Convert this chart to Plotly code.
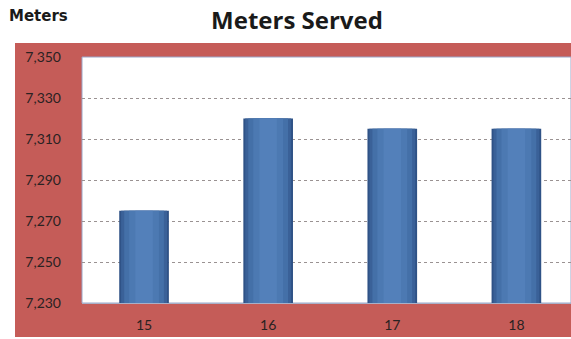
import plotly.graph_objects as go

# Meters served per period
periods = ["15", "16", "17", "18"]
meters = [7275, 7320, 7315, 7315]

y_ticks = [7230, 7250, 7270, 7290, 7310, 7330, 7350]
y_labels = ["7,230", "7,250", "7,270", "7,290", "7,310", "7,330", "7,350"]

W, H = 571, 339
L, T, B = 82, 57, 36
PW, PH = W - L, H - T - B

fig = go.Figure()

# Layered bars give the rounded, cylinder-like shading
layers = [
    (0.40, "#2f5286"),
    (0.37, "#3a6198"),
    (0.32, "#4470a8"),
    (0.24, "#4c79b2"),
    (0.14, "#5380ba"),
]
for width, colour in layers:
    fig.add_trace(go.Bar(
        x=list(range(len(periods))), y=meters, width=width,
        marker=dict(color=colour, line=dict(width=0)),
        hoverinfo="skip", showlegend=False,
    ))

fig.update_layout(
    width=W, height=H,
    margin=dict(l=L, r=0, t=T, b=B, pad=0),
    barmode="overlay",
    paper_bgcolor="white",
    plot_bgcolor="white",
    font=dict(family="Lato, Open Sans, sans-serif", color="#2a2222", size=14),
    showlegend=False,
    title=dict(
        text="<b>Meters Served</b>",
        x=(297 - L) / PW, xanchor="center", xref="paper",
        y=1 - 21 / H, yanchor="middle",
        font=dict(family="Open Sans, sans-serif", size=24, color="#1a1a1a"),
    ),
    shapes=[
        # red panel behind the plot area
        dict(type="rect", xref="paper", yref="paper", layer="below",
             x0=(15 - L) / PW, x1=1.0,
             y0=-(337 - 303) / PH, y1=1 + (T - 43) / PH,
             fillcolor="#c55c58", line=dict(width=0)),
        # white plot surface
        dict(type="rect", xref="paper", yref="paper", layer="below",
             x0=0, x1=1, y0=0, y1=1,
             fillcolor="white", line=dict(color="#9aa6c8", width=1)),
    ],
    annotations=[
        dict(text="<b>Meters</b>",
             x=(7 - L) / PW, y=1 + (T - 16) / PH,
             xref="paper", yref="paper",
             showarrow=False, xanchor="left", yanchor="middle",
             font=dict(family="DejaVu Sans, sans-serif", size=15, color="#1a1a1a")),
    ],
)

fig.update_xaxes(
    tickmode="array",
    tickvals=list(range(len(periods))),
    ticktext=periods,
    range=[-0.5, 3.44],
    showgrid=False,
    showline=True, linecolor="#a8b0c8", linewidth=1,
    ticks="", ticklabelstandoff=9,
    tickfont=dict(size=14),
    fixedrange=True,
)

fig.update_yaxes(
    range=[7230, 7350],
    tickmode="array",
    tickvals=y_ticks,
    ticktext=y_labels,
    showgrid=True, gridcolor="#9a9292", griddash="dot", gridwidth=1,
    showline=False, zeroline=False,
    ticks="", ticklabelstandoff=20,
    tickfont=dict(size=14),
    fixedrange=True,
)

fig.write_html("out.html")
